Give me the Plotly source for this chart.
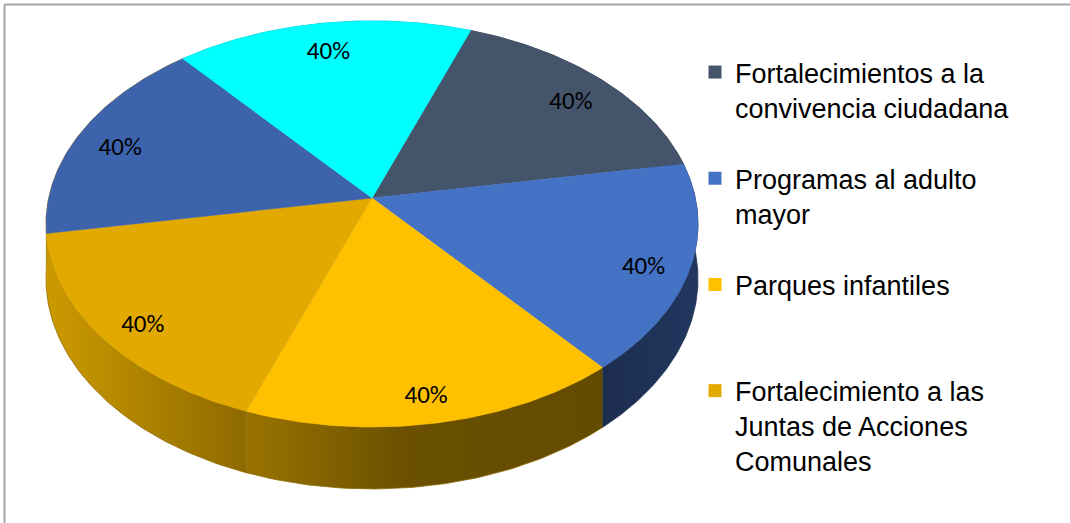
import numpy as np
import plotly.graph_objects as go

# data
categories = [
    "Fortalecimientos a la convivencia ciudadana",
    "Programas al adulto mayor",
    "Parques infantiles",
    "Fortalecimiento a las Juntas de Acciones Comunales",
    "Categoría 5",
    "Categoría 6",
]
values = [40, 40, 40, 40, 40, 40]
value_labels = ["40%", "40%", "40%", "40%", "40%", "40%"]
legend_labels = [
    "Fortalecimientos a la<br>convivencia ciudadana",
    "Programas al adulto<br>mayor",
    "Parques infantiles<br> ",
    "Fortalecimiento a las<br>Juntas de Acciones<br>Comunales",
]

top_colors = ["#44546A", "#4472C4", "#FFC000", "#E2AA00", "#3C63AC", "#00FFFF"]
side_colors = [
    [[0, "#2E3A4A"], [1, "#2E3A4A"]],
    [[0, "#1C2D4F"], [1, "#22375F"]],
    [[0, "#9A7300"], [0.45, "#6A5000"], [1, "#634B00"]],
    [[0, "#CC9A00"], [1, "#8E6A00"]],
    [[0, "#C59500"], [1, "#C59500"]],
    [[0, "#00B0B0"], [1, "#00B0B0"]],
]
seam_colors = ["#2E3A4A", "#1E3052", "#8A6700", "#8E6A00", "#C59500", "#00B0B0"]

# pseudo-3D pie geometry (screen pixels)
CX, CY = 372, 198
AX, BY = 323.3, 199.7
K = 0.128          # perspective
DEPTH = 54
START = 20         # degrees, clockwise from top


def project(theta, r=1.0, drop=0.0):
    s = r * np.sin(theta)
    t = r * np.cos(theta)
    d = 1 + K * t
    return CX + AX * s / d, CY + (drop - BY * t) / d


total = sum(values)
bounds = np.radians(START + 360 * np.concatenate([[0], np.cumsum(values)]) / total)

fig = go.Figure()

# side walls first
for i in range(len(values)):
    th = np.linspace(bounds[i], bounds[i + 1], 80)
    xt, yt = project(th)
    xb, yb = project(th, drop=DEPTH)
    fig.add_trace(go.Scatter(
        x=np.concatenate([xt, xb[::-1]]), y=np.concatenate([yt, yb[::-1]]),
        fill="toself", mode="lines", line=dict(width=0.8, color=seam_colors[i]),
        fillgradient=dict(type="horizontal", colorscale=side_colors[i]),
        showlegend=False, hoverinfo="skip",
    ))

# top faces
for i in range(len(values)):
    th = np.linspace(bounds[i], bounds[i + 1], 80)
    xt, yt = project(th)
    fig.add_trace(go.Scatter(
        x=np.concatenate([[CX], xt, [CX]]), y=np.concatenate([[CY], yt, [CY]]),
        fill="toself", mode="lines", line=dict(width=0.5, color=top_colors[i]),
        fillcolor=top_colors[i], name=categories[i], showlegend=False,
        hoverinfo="name",
    ))

# data labels
mid = (bounds[:-1] + bounds[1:]) / 2
lx, ly = project(mid, r=0.86, drop=8)
fig.add_trace(go.Scatter(
    x=lx, y=ly, mode="text", text=value_labels,
    textfont=dict(family="Carlito, Lato, sans-serif", size=25, color="#000000"),
    showlegend=False, hoverinfo="skip",
))

# legend entries
for i, lab in enumerate(legend_labels):
    fig.add_trace(go.Scatter(
        x=[None], y=[None], mode="markers", name=lab, legendgroup=str(i),
        marker=dict(symbol="square", size=13, color=top_colors[i]),
    ))

fig.update_layout(
    width=1070, height=523,
    margin=dict(l=0, r=0, t=0, b=0),
    plot_bgcolor="white", paper_bgcolor="white",
    xaxis=dict(range=[0, 1070], visible=False, fixedrange=True),
    yaxis=dict(range=[523, 0], visible=False, fixedrange=True),
    legend=dict(
        x=695 / 1070, y=1 - 48 / 523, xanchor="left", yanchor="top",
        font=dict(family="Liberation Sans, Arial, sans-serif", size=27, color="#000000"),
        valign="top", tracegroupgap=33, bgcolor="rgba(0,0,0,0)",
    ),
    shapes=[
        dict(type="line", xref="paper", yref="paper", x0=4.5 / 1070, x1=1,
             y0=1 - 4.5 / 523, y1=1 - 4.5 / 523, line=dict(color="#A6A6A6", width=2)),
        dict(type="line", xref="paper", yref="paper", x0=4.5 / 1070, x1=4.5 / 1070,
             y0=0, y1=1 - 4.5 / 523, line=dict(color="#A6A6A6", width=2)),
    ],
)

# page has an 8px default body margin; drop it so the figure sits at 0,0
fig.write_html("out.html", config={"displayModeBar": False},
               post_script="document.body.style.margin='0';")
